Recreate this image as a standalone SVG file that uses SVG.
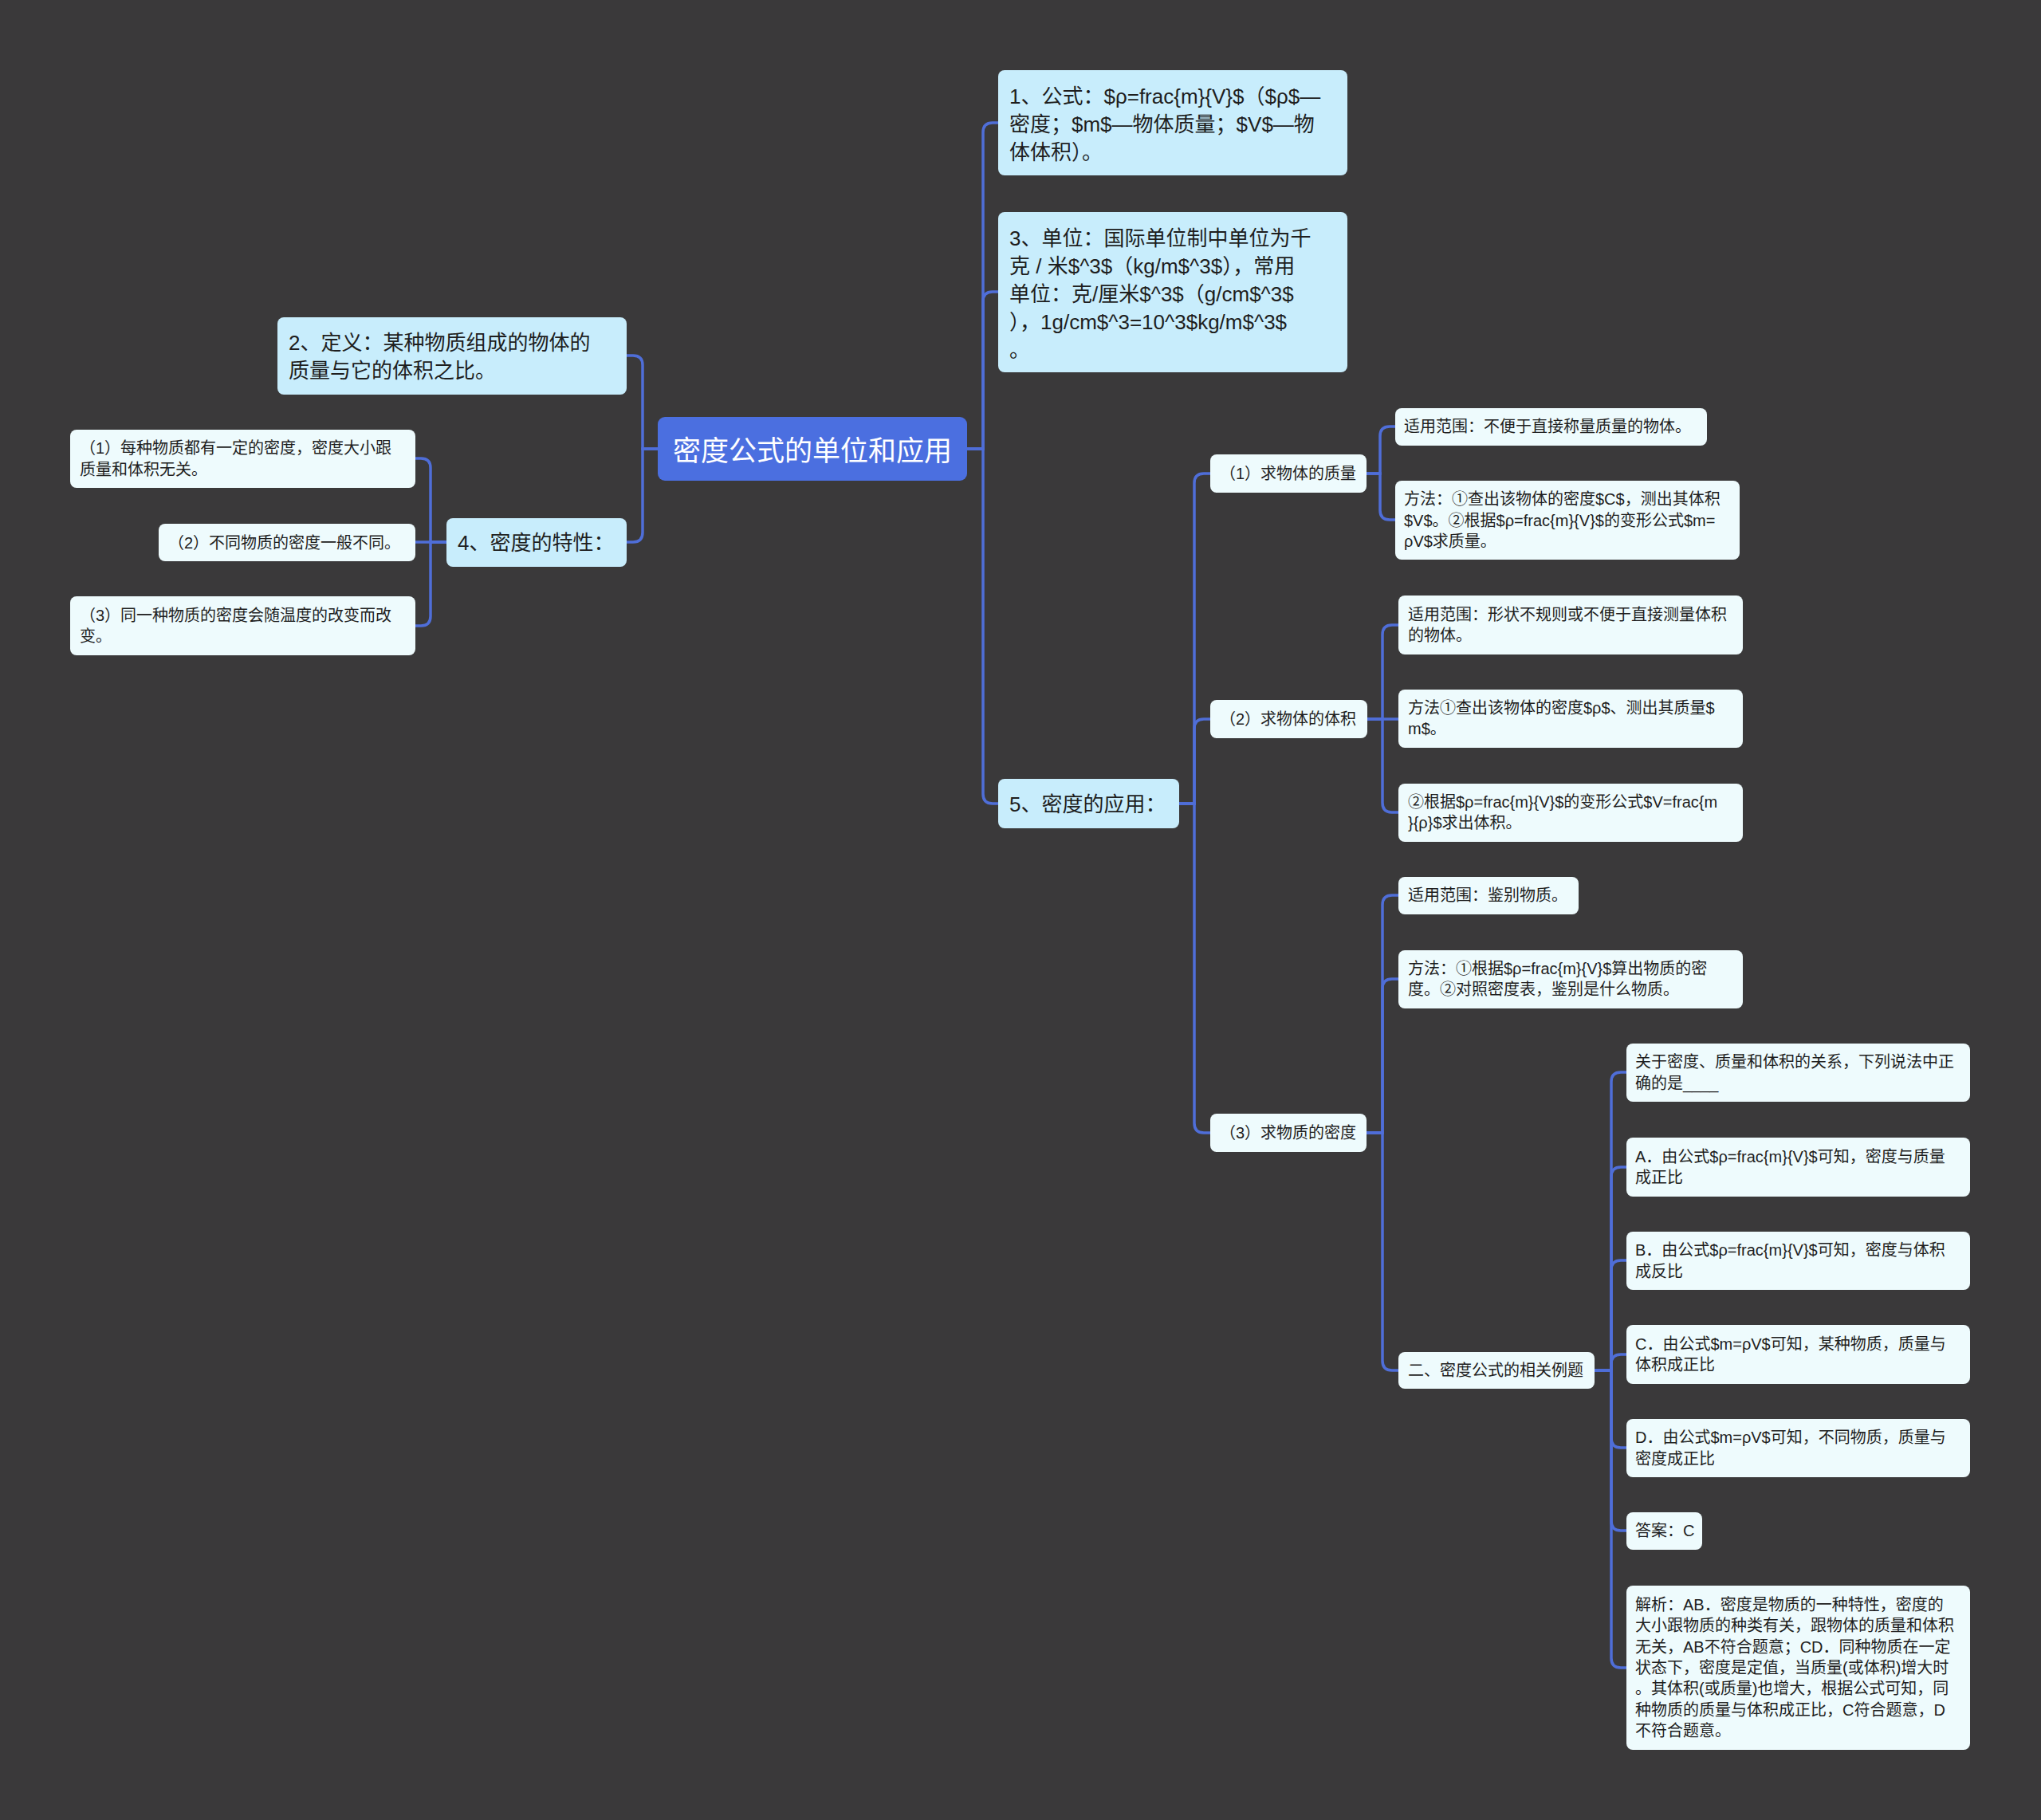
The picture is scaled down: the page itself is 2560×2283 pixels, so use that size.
<svg xmlns="http://www.w3.org/2000/svg" width="2560" height="2283" viewBox="0 0 2560 2283">
<style>
text{font-family:"Liberation Sans","Noto Sans CJK SC",sans-serif;fill:#1e1e1e}
.root rect{fill:#4b6fe0}
.root text{fill:#ffffff;font-size:35px}
.l1 rect{fill:#c8edfc}
.l1 text{font-size:26px}
.l2 rect{fill:#eefbfd}
.l2 text{font-size:20px}
.conn path{fill:none;stroke:#4f6ed8;stroke-width:3.5}
</style>
<rect width="2560" height="2283" fill="#3a393a"/>
<g class="conn" id="connectors">
<path d="M1213 563H1233V166Q1233 154 1245 154H1252"/>
<path d="M1213 563H1233V378Q1233 366 1245 366H1252"/>
<path d="M1213 563H1233V996Q1233 1008 1245 1008H1252"/>
<path d="M825 563H806V458Q806 446 794 446H786"/>
<path d="M825 563H806V668Q806 680 794 680H786"/>
<path d="M560 680H540V587Q540 575 528 575H521"/>
<path d="M560 680H521"/>
<path d="M560 680H540V773Q540 785 528 785H521"/>
<path d="M1479 1008H1498V606Q1498 594 1510 594H1518"/>
<path d="M1479 1008H1498V914Q1498 902 1510 902H1518"/>
<path d="M1479 1008H1498V1409Q1498 1421 1510 1421H1518"/>
<path d="M1714 594H1731V547Q1731 535 1743 535H1750"/>
<path d="M1714 594H1731V640Q1731 652 1743 652H1750"/>
<path d="M1715 902H1734V796Q1734 784 1746 784H1754"/>
<path d="M1715 902H1754"/>
<path d="M1715 902H1734V1007Q1734 1019 1746 1019H1754"/>
<path d="M1714 1421H1734V1135Q1734 1123 1746 1123H1754"/>
<path d="M1714 1421H1734V1240Q1734 1228 1746 1228H1754"/>
<path d="M1714 1421H1734V1707Q1734 1719 1746 1719H1754"/>
<path d="M2000 1719H2021V1357Q2021 1345 2033 1345H2040"/>
<path d="M2000 1719H2021V1476Q2021 1464 2033 1464H2040"/>
<path d="M2000 1719H2021V1593Q2021 1581 2033 1581H2040"/>
<path d="M2000 1719H2021V1711Q2021 1699 2033 1699H2040"/>
<path d="M2000 1719H2021V1804Q2021 1816 2033 1816H2040"/>
<path d="M2000 1719H2021V1908Q2021 1920 2033 1920H2040"/>
<path d="M2000 1719H2021V2080Q2021 2092 2033 2092H2040"/>
</g>
<g class="root" id="n-root"><rect x="825" y="523" width="388" height="80" rx="9"/><text x="844" y="578">密度公式的单位和应用</text></g>
<g class="l1" id="n1"><rect x="1252" y="88" width="438" height="132" rx="8"/><text x="1266" y="130">1、公式：$ρ=frac{m}{V}$（$ρ$—</text><text x="1266" y="165">密度；$m$—物体质量；$V$—物</text><text x="1266" y="200">体体积）。</text></g>
<g class="l1" id="n3"><rect x="1252" y="266" width="438" height="201" rx="8"/><text x="1266" y="308">3、单位：国际单位制中单位为千</text><text x="1266" y="343">克 / 米$^3$（kg/m$^3$），常用</text><text x="1266" y="378">单位：克/厘米$^3$（g/cm$^3$</text><text x="1266" y="413">），1g/cm$^3=10^3$kg/m$^3$</text><text x="1266" y="448">。</text></g>
<g class="l1" id="n2"><rect x="348" y="398" width="438" height="97" rx="8"/><text x="362" y="439">2、定义：某种物质组成的物体的</text><text x="362" y="474">质量与它的体积之比。</text></g>
<g class="l1" id="n4"><rect x="560" y="650" width="226" height="61" rx="8"/><text x="574" y="690">4、密度的特性：</text></g>
<g class="l1" id="n5"><rect x="1252" y="977" width="227" height="62" rx="8"/><text x="1266" y="1018">5、密度的应用：</text></g>
<g class="l2" id="n4-1"><rect x="88" y="539" width="433" height="73" rx="8"/><text x="100" y="569">（1）每种物质都有一定的密度，密度大小跟</text><text x="100" y="596">质量和体积无关。</text></g>
<g class="l2" id="n4-2"><rect x="199" y="657" width="322" height="47" rx="8"/><text x="211" y="688">（2）不同物质的密度一般不同。</text></g>
<g class="l2" id="n4-3"><rect x="88" y="748" width="433" height="74" rx="8"/><text x="100" y="779">（3）同一种物质的密度会随温度的改变而改</text><text x="100" y="805">变。</text></g>
<g class="l2" id="n5-1"><rect x="1518" y="570" width="196" height="48" rx="8"/><text x="1530" y="601">（1）求物体的质量</text></g>
<g class="l2" id="n5-1-1"><rect x="1750" y="512" width="391" height="47" rx="8"/><text x="1761" y="542">适用范围：不便于直接称量质量的物体。</text></g>
<g class="l2" id="n5-1-2"><rect x="1750" y="603" width="432" height="99" rx="8"/><text x="1761" y="633">方法：①查出该物体的密度$C$，测出其体积</text><text x="1761" y="659.5">$V$。②根据$ρ=frac{m}{V}$的变形公式$m=</text><text x="1761" y="686">ρV$求质量。</text></g>
<g class="l2" id="n5-2"><rect x="1518" y="878" width="197" height="48" rx="8"/><text x="1530" y="909">（2）求物体的体积</text></g>
<g class="l2" id="n5-2-1"><rect x="1754" y="747" width="432" height="74" rx="8"/><text x="1766" y="778">适用范围：形状不规则或不便于直接测量体积</text><text x="1766" y="804">的物体。</text></g>
<g class="l2" id="n5-2-2"><rect x="1754" y="865" width="432" height="73" rx="8"/><text x="1766" y="895">方法①查出该物体的密度$ρ$、测出其质量$</text><text x="1766" y="921">m$。</text></g>
<g class="l2" id="n5-2-3"><rect x="1754" y="983" width="432" height="73" rx="8"/><text x="1766" y="1013">②根据$ρ=frac{m}{V}$的变形公式$V=frac{m</text><text x="1766" y="1039">}{ρ}$求出体积。</text></g>
<g class="l2" id="n5-3"><rect x="1518" y="1397" width="196" height="48" rx="8"/><text x="1530" y="1428">（3）求物质的密度</text></g>
<g class="l2" id="n5-3-1"><rect x="1754" y="1100" width="226" height="47" rx="8"/><text x="1766" y="1130">适用范围：鉴别物质。</text></g>
<g class="l2" id="n5-3-2"><rect x="1754" y="1192" width="432" height="73" rx="8"/><text x="1766" y="1222">方法：①根据$ρ=frac{m}{V}$算出物质的密</text><text x="1766" y="1248">度。②对照密度表，鉴别是什么物质。</text></g>
<g class="l2" id="n5-3-3"><rect x="1754" y="1696" width="246" height="46" rx="8"/><text x="1766" y="1726">二、密度公式的相关例题</text></g>
<g class="l2" id="ex-q"><rect x="2040" y="1309" width="431" height="73" rx="8"/><text x="2051" y="1339">关于密度、质量和体积的关系，下列说法中正</text><text x="2051" y="1365.5">确的是____</text></g>
<g class="l2" id="ex-a"><rect x="2040" y="1427" width="431" height="74" rx="8"/><text x="2051" y="1457.5">A．由公式$ρ=frac{m}{V}$可知，密度与质量</text><text x="2051" y="1484">成正比</text></g>
<g class="l2" id="ex-b"><rect x="2040" y="1545" width="431" height="73" rx="8"/><text x="2051" y="1575">B．由公式$ρ=frac{m}{V}$可知，密度与体积</text><text x="2051" y="1601.5">成反比</text></g>
<g class="l2" id="ex-c"><rect x="2040" y="1662" width="431" height="74" rx="8"/><text x="2051" y="1692.5">C．由公式$m=ρV$可知，某种物质，质量与</text><text x="2051" y="1719">体积成正比</text></g>
<g class="l2" id="ex-d"><rect x="2040" y="1780" width="431" height="73" rx="8"/><text x="2051" y="1810">D．由公式$m=ρV$可知，不同物质，质量与</text><text x="2051" y="1836.5">密度成正比</text></g>
<g class="l2" id="ex-ans"><rect x="2040" y="1897" width="95" height="47" rx="8"/><text x="2051" y="1927">答案：C</text></g>
<g class="l2" id="ex-exp"><rect x="2040" y="1989" width="431" height="206" rx="8"/><text x="2051" y="2020">解析：AB．密度是物质的一种特性，密度的</text><text x="2051" y="2046.3">大小跟物质的种类有关，跟物体的质量和体积</text><text x="2051" y="2072.6">无关，AB不符合题意；CD．同种物质在一定</text><text x="2051" y="2098.9">状态下，密度是定值，当质量(或体积)增大时</text><text x="2051" y="2125.2">。其体积(或质量)也增大，根据公式可知，同</text><text x="2051" y="2151.5">种物质的质量与体积成正比，C符合题意，D</text><text x="2051" y="2177.8">不符合题意。</text></g>
</svg>
